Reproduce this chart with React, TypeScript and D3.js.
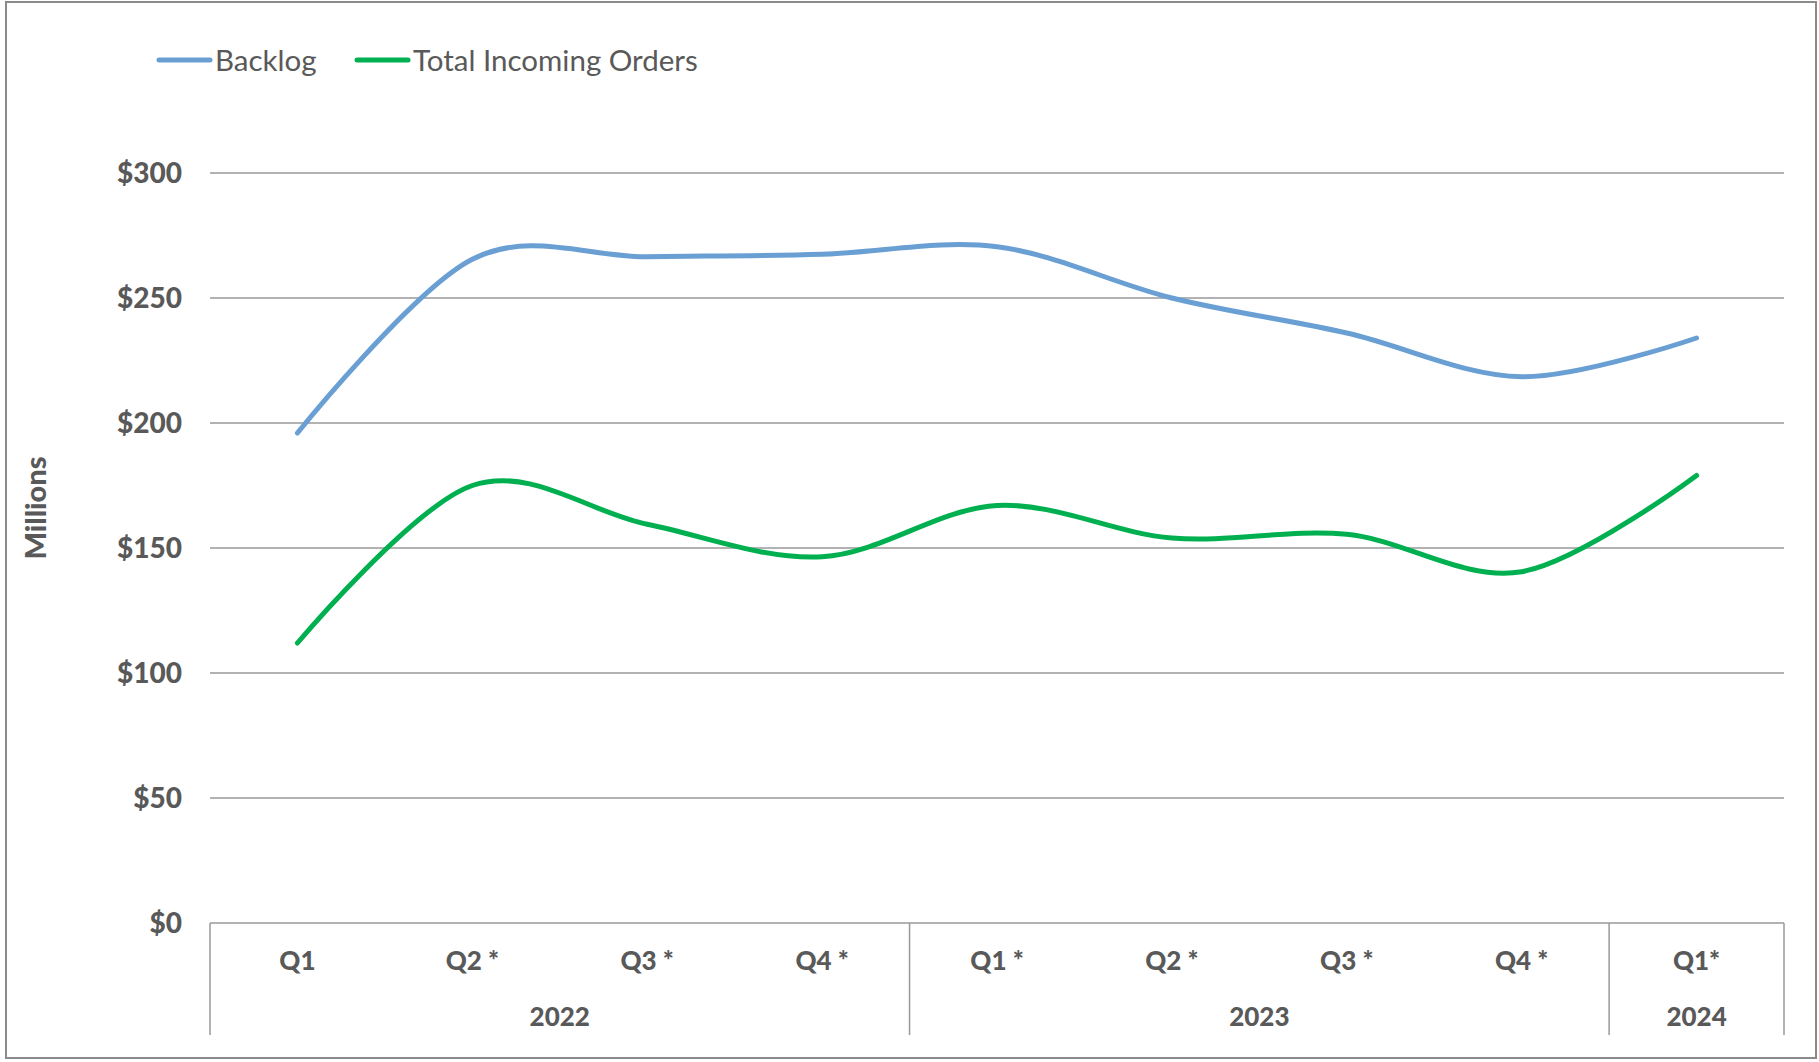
import React from "react";
import * as d3 from "d3";

const quarters = ["Q1", "Q2 *", "Q3 *", "Q4 *", "Q1 *", "Q2 *", "Q3 *", "Q4 *", "Q1*"];
const years = ["2022", "2022", "2022", "2022", "2023", "2023", "2023", "2023", "2024"];
const backlog = [196, 265.5, 266.5, 267.5, 270.5, 250, 236, 218.5, 234];
const incoming = [112, 175, 159.5, 146.5, 167, 154, 155.5, 140.5, 179];
const yTicks = [0, 50, 100, 150, 200, 250, 300];
const seriesNames = ["Backlog", "Total Incoming Orders"];
const seriesColors = ["#6a9fd4", "#00b050"];

const W = 1819;
const H = 1062;
const M = { left: 210, right: 1784, top: 173, bottom: 923 };
const FONT = "Lato, 'Open Sans', sans-serif";
const TXT = "#595959";
const GRID = "#999999";

export default function App() {
  const x = d3.scaleBand<number>().domain(d3.range(quarters.length)).range([M.left, M.right]).padding(0);
  const y = d3.scaleLinear().domain([0, 300]).range([M.bottom, M.top]);
  const line = d3
    .line<number>()
    .x((_, i) => (x(i) as number) + x.bandwidth() / 2)
    .y((d) => y(d))
    .curve(d3.curveCardinal.tension(0));

  const groups: { year: string; start: number; end: number }[] = [];
  years.forEach((yr, i) => {
    const last = groups[groups.length - 1];
    if (last && last.year === yr) last.end = i;
    else groups.push({ year: yr, start: i, end: i });
  });
  const boundaries = [0, ...groups.map((g) => g.end + 1)];
  const axisBottom = 1035;

  return (
    <svg width={W} height={H} style={{ position: "absolute", left: 0, top: 0, background: "#fff" }}>
      <rect x={6} y={2} width={1810} height={1056} fill="#fff" stroke="#8a8a8a" strokeWidth={2} />

      {seriesNames.map((name, i) => {
        const lx = i === 0 ? 159 : 357;
        return (
          <g key={name}>
            <line x1={lx} x2={lx + 51} y1={60} y2={60} stroke={seriesColors[i]} strokeWidth={5} strokeLinecap="round" />
            <text x={lx + 56} y={61} dy="0.35em" fontFamily={FONT} fontSize={29.5} fill={TXT}>
              {name}
            </text>
          </g>
        );
      })}

      {yTicks.map((t) => (
        <g key={t}>
          {t > 0 && <line x1={M.left} x2={M.right} y1={y(t)} y2={y(t)} stroke={GRID} strokeWidth={1.5} />}
          <text
            x={182}
            y={y(t)}
            dy="0.35em"
            textAnchor="end"
            fontFamily={FONT}
            fontWeight={900}
            fontSize={28}
            fill={TXT}
          >
            {"$" + t}
          </text>
        </g>
      ))}

      <text
        transform={`translate(36,508) rotate(-90)`}
        textAnchor="middle"
        dy="0.35em"
        fontFamily={FONT}
        fontWeight={900}
        fontSize={29}
        fill={TXT}
      >
        Millions
      </text>

      <line x1={M.left} x2={M.right} y1={M.bottom} y2={M.bottom} stroke={GRID} strokeWidth={1.5} />
      {boundaries.map((b, i) => {
        const bx = b >= quarters.length ? M.right : (x(b) as number);
        return <line key={i} x1={bx} x2={bx} y1={M.bottom} y2={axisBottom} stroke={GRID} strokeWidth={1.5} />;
      })}
      {quarters.map((q, i) => (
        <text
          key={i}
          x={(x(i) as number) + x.bandwidth() / 2}
          y={961}
          dy="0.35em"
          textAnchor="middle"
          fontFamily={FONT}
          fontWeight={900}
          fontSize={26}
          fill={TXT}
        >
          {q}
        </text>
      ))}
      {groups.map((g) => {
        const cx = ((x(g.start) as number) + (x(g.end) as number) + x.bandwidth()) / 2;
        return (
          <text
            key={g.year}
            x={cx}
            y={1017}
            dy="0.35em"
            textAnchor="middle"
            fontFamily={FONT}
            fontWeight={900}
            fontSize={26}
            fill={TXT}
          >
            {g.year}
          </text>
        );
      })}

      {[backlog, incoming].map((s, i) => (
        <path
          key={i}
          d={line(s) || ""}
          fill="none"
          stroke={seriesColors[i]}
          strokeWidth={5}
          strokeLinecap="round"
          strokeLinejoin="round"
        />
      ))}
    </svg>
  );
}
